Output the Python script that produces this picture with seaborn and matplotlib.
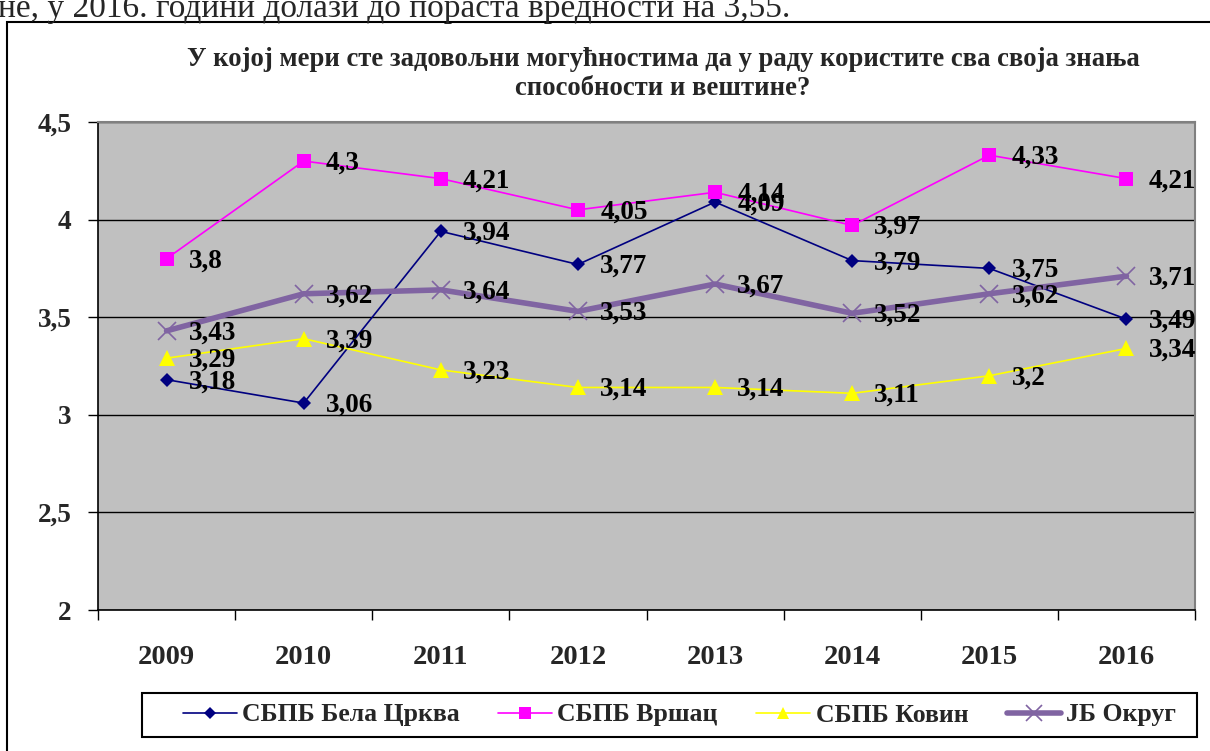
import numpy as np
import pandas as pd
import matplotlib
matplotlib.use('Agg')
import matplotlib.pyplot as plt
from matplotlib.patches import Rectangle
import seaborn as sns

years = ['2009', '2010', '2011', '2012', '2013', '2014', '2015', '2016']
series_names = ['СБПБ Бела Црква', 'СБПБ Вршац', 'СБПБ Ковин', 'ЈБ Округ']
bela_crkva = [3.18, 3.06, 3.94, 3.77, 4.09, 3.79, 3.75, 3.49]
vrsac = [3.8, 4.3, 4.21, 4.05, 4.14, 3.97, 4.33, 4.21]
kovin = [3.29, 3.39, 3.23, 3.14, 3.14, 3.11, 3.2, 3.34]
okrug = [3.43, 3.62, 3.64, 3.53, 3.67, 3.52, 3.62, 3.71]
y_ticks = [2, 2.5, 3, 3.5, 4, 4.5]
y_tick_labels = ['2', '2,5', '3', '3,5', '4', '4,5']

title = ('У којој мери сте задовољни могућностима да у раду користите сва своја знања\n'
         'способности и вештине?')
top_text = 'не, у 2016. години долази до пораста вредности на 3,55.'

sns.set_theme(style='white')
plt.rcParams['font.family'] = ['Liberation Serif', 'DejaVu Serif']

df = pd.DataFrame({
    'x': list(range(len(years))) * 4,
    'value': bela_crkva + vrsac + kovin + okrug,
    'series': np.repeat(series_names, len(years)),
})

styles = {
    'СБПБ Бела Црква': dict(color='#000080', marker='D', ms=7.5, lw=1.2, mew=0),
    'СБПБ Вршац': dict(color='#FF00FF', marker='s', ms=10, lw=1.2, mew=0),
    'СБПБ Ковин': dict(color='#FFFF00', marker='^', ms=11, lw=1.2, mew=0),
    'ЈБ Округ': dict(color='#8064A2', marker='x', ms=13, lw=4, mew=1.2),
}

fig = plt.figure(figsize=(12.1, 7.51), dpi=100)
ax = fig.add_axes([98 / 1210, 1 - 610 / 751, 1097 / 1210, 488 / 751])
ax.set_facecolor('#C0C0C0')

for name in series_names:
    st = styles[name]
    sub = df[df['series'] == name]
    sns.lineplot(data=sub, x='x', y='value', ax=ax, color=st['color'],
                 linewidth=st['lw'], marker=st['marker'], markersize=st['ms'],
                 markeredgewidth=st['mew'], markeredgecolor=st['color'],
                 label=name, legend=False)
    for xi, v in zip(sub['x'], sub['value']):
        ax.annotate(f'{v:g}'.replace('.', ','), (xi, v), xytext=(16, -1.5),
                    textcoords='offset points', ha='left', va='center',
                    fontsize=19.5, fontweight='bold', color='black')

ax.set_xlim(-0.5, 7.5)
ax.set_ylim(2, 4.5)
ax.set_yticks(y_ticks)
ax.set_yticklabels(y_tick_labels, fontsize=19.5, fontweight='bold')
ax.set_xticks(range(len(years)))
ax.set_xticklabels(years, fontsize=20.5, fontweight='bold')
ax.set_xticks(np.arange(-0.5, 8, 1), minor=True)
ax.tick_params(axis='x', which='major', length=0, pad=25)
ax.tick_params(axis='x', which='minor', length=7, width=1, direction='out', color='black', bottom=True)
ax.tick_params(axis='y', length=7, width=1, direction='out', color='black', left=True, pad=12)
ax.set_xlabel('')
ax.set_ylabel('')
ax.grid(axis='y', color='black', linewidth=1)
ax.set_axisbelow(True)
for side in ['top', 'right']:
    ax.spines[side].set_color('#808080')
    ax.spines[side].set_linewidth(1.5)
for side in ['left', 'bottom']:
    ax.spines[side].set_color('black')
    ax.spines[side].set_linewidth(1.2)

fig.text(663 / 1210, 1 - 74 / 751, title, ha='center', va='center',
         fontsize=19.2, fontweight='bold', linespacing=1.2)

fig.text(-2 / 1210, 1 - 17 / 751, top_text, ha='left', va='baseline', fontsize=24)

# outer chart frame (continues past the right and bottom edges)
fig.patches.append(Rectangle((7 / 1210, -0.1), 1.2, 1 - 22 / 751 + 0.1,
                             transform=fig.transFigure, fill=False,
                             edgecolor='black', linewidth=1.5))

# legend box drawn separately so the padding matches
fig.patches.append(Rectangle((142 / 1210, 1 - 737 / 751), 1055 / 1210, 44 / 751,
                             transform=fig.transFigure, fill=False,
                             edgecolor='black', linewidth=1.5))

handles, labels = ax.get_legend_handles_labels()
leg = fig.legend(handles, labels, loc='center left', ncol=4,
                 bbox_to_anchor=(183 / 1210, 1 - 715 / 751),
                 prop={'size': 18.5, 'weight': 'bold'}, frameon=False,
                 handlelength=2.1, columnspacing=1.5, handletextpad=0.2,
                 borderpad=0, borderaxespad=0, markerscale=0.85)

fig.savefig('out.png', dpi=100)
